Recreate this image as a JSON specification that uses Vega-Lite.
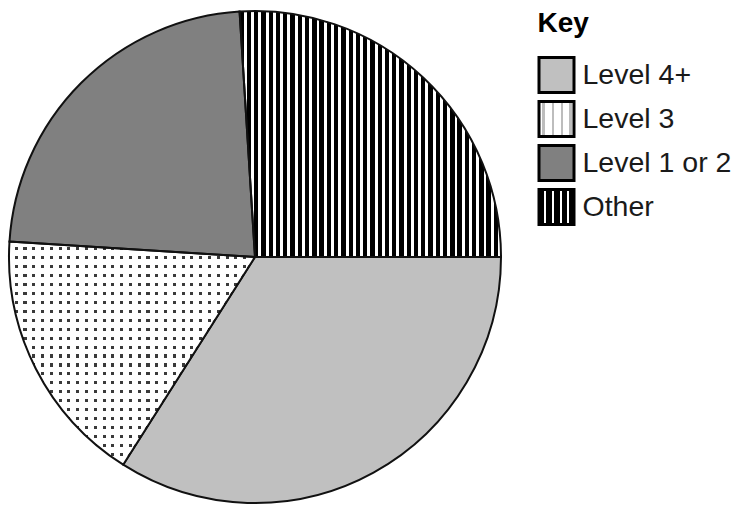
{
  "$schema": "https://vega.github.io/schema/vega-lite/v6.json",
  "width": 510,
  "height": 514,
  "padding": 0,
  "autosize": {"type": "pad"},
  "background": "white",
  "config": {"view": {"stroke": null}, "font": "Liberation Sans"},
  "data": {
    "values": [
      {"cat": "Level 4+", "pct": 34},
      {"cat": "Level 3", "pct": 17},
      {"cat": "Level 1 or 2", "pct": 23},
      {"cat": "Other", "pct": 26}
    ]
  },
  "encoding": {
    "theta": {"field": "pct", "type": "quantitative", "stack": true, "scale": {"range": [-0.0628, 6.2204]}},
    "order": {"field": "cat", "type": "ordinal", "sort": "descending"},
    "detail": {"field": "cat", "type": "nominal"}
  },
  "layer": [
    {
      "mark": {"type": "arc", "outerRadius": 246},
      "encoding": {
        "fill": {
          "field": "cat",
          "type": "nominal",
          "scale": {
            "domain": ["Level 4+", "Level 3", "Level 1 or 2", "Other"],
            "range": [
              "#c0c0c0",
              {"expr": "{gradient:'linear',x1:0,y1:0,x2:1,y2:0,stops:[{offset:0.1,color:'#fff'},{offset:0.1,color:'#bdbdbd'},{offset:0.18,color:'#bdbdbd'},{offset:0.18,color:'#fff'},{offset:0.36,color:'#fff'},{offset:0.36,color:'#bdbdbd'},{offset:0.44,color:'#bdbdbd'},{offset:0.44,color:'#fff'},{offset:0.62,color:'#fff'},{offset:0.62,color:'#bdbdbd'},{offset:0.7,color:'#bdbdbd'},{offset:0.7,color:'#fff'},{offset:0.86,color:'#fff'},{offset:0.86,color:'#bdbdbd'},{offset:0.94,color:'#bdbdbd'},{offset:0.94,color:'#fff'}]}"},
              "#808080",
              {"expr": "{gradient:'linear',x1:0,y1:0,x2:1,y2:0,stops:[{offset:0.14,color:'#000'},{offset:0.14,color:'#fff'},{offset:0.2,color:'#fff'},{offset:0.2,color:'#000'},{offset:0.37,color:'#000'},{offset:0.37,color:'#fff'},{offset:0.43,color:'#fff'},{offset:0.43,color:'#000'},{offset:0.59,color:'#000'},{offset:0.59,color:'#fff'},{offset:0.65,color:'#fff'},{offset:0.65,color:'#000'},{offset:0.8,color:'#000'},{offset:0.8,color:'#fff'},{offset:0.86,color:'#fff'},{offset:0.86,color:'#000'}]}"}
            ]
          },
          "legend": {
            "title": "Key",
            "orient": "none",
            "legendX": 537.5,
            "legendY": 10,
            "titleFontSize": 28,
            "titleFontWeight": "bold",
            "titleColor": "#000000",
            "titleFont": "Liberation Sans",
            "titlePadding": 18,
            "labelFontSize": 28.5,
            "labelFont": "Liberation Sans",
            "labelColor": "#1a1a1a",
            "labelOffset": 7,
            "labelLimit": 300,
            "symbolType": "square",
            "symbolSize": 1225,
            "symbolStrokeColor": "#000000",
            "symbolStrokeWidth": 3,
            "symbolOpacity": 1,
            "rowPadding": -4
          }
        }
      }
    },
    {
      "mark": {"type": "arc", "outerRadius": 246, "strokeWidth": 0},
      "encoding": {
        "fill": {
          "condition": [
            {
              "test": "datum.cat === 'Other'",
              "value": {
                "gradient": "linear", "x1": 0, "y1": 0, "x2": 1, "y2": 0,
                "stops": [
                  {"offset": 0.0167, "color": "#000000"}, {"offset": 0.0167, "color": "#ffffff"}, {"offset": 0.0278, "color": "#ffffff"}, {"offset": 0.0278, "color": "#000000"},
                  {"offset": 0.0444, "color": "#000000"}, {"offset": 0.0444, "color": "#ffffff"}, {"offset": 0.0556, "color": "#ffffff"}, {"offset": 0.0556, "color": "#000000"},
                  {"offset": 0.0722, "color": "#000000"}, {"offset": 0.0722, "color": "#ffffff"}, {"offset": 0.0833, "color": "#ffffff"}, {"offset": 0.0833, "color": "#000000"},
                  {"offset": 0.1, "color": "#000000"}, {"offset": 0.1, "color": "#ffffff"}, {"offset": 0.1111, "color": "#ffffff"}, {"offset": 0.1111, "color": "#000000"},
                  {"offset": 0.1278, "color": "#000000"}, {"offset": 0.1278, "color": "#ffffff"}, {"offset": 0.1389, "color": "#ffffff"}, {"offset": 0.1389, "color": "#000000"},
                  {"offset": 0.1556, "color": "#000000"}, {"offset": 0.1556, "color": "#ffffff"}, {"offset": 0.1667, "color": "#ffffff"}, {"offset": 0.1667, "color": "#000000"},
                  {"offset": 0.1833, "color": "#000000"}, {"offset": 0.1833, "color": "#ffffff"}, {"offset": 0.1944, "color": "#ffffff"}, {"offset": 0.1944, "color": "#000000"},
                  {"offset": 0.2111, "color": "#000000"}, {"offset": 0.2111, "color": "#ffffff"}, {"offset": 0.2222, "color": "#ffffff"}, {"offset": 0.2222, "color": "#000000"},
                  {"offset": 0.2389, "color": "#000000"}, {"offset": 0.2389, "color": "#ffffff"}, {"offset": 0.25, "color": "#ffffff"}, {"offset": 0.25, "color": "#000000"},
                  {"offset": 0.2667, "color": "#000000"}, {"offset": 0.2667, "color": "#ffffff"}, {"offset": 0.2778, "color": "#ffffff"}, {"offset": 0.2778, "color": "#000000"},
                  {"offset": 0.2944, "color": "#000000"}, {"offset": 0.2944, "color": "#ffffff"}, {"offset": 0.3056, "color": "#ffffff"}, {"offset": 0.3056, "color": "#000000"},
                  {"offset": 0.3222, "color": "#000000"}, {"offset": 0.3222, "color": "#ffffff"}, {"offset": 0.3333, "color": "#ffffff"}, {"offset": 0.3333, "color": "#000000"},
                  {"offset": 0.35, "color": "#000000"}, {"offset": 0.35, "color": "#ffffff"}, {"offset": 0.3611, "color": "#ffffff"}, {"offset": 0.3611, "color": "#000000"},
                  {"offset": 0.3778, "color": "#000000"}, {"offset": 0.3778, "color": "#ffffff"}, {"offset": 0.3889, "color": "#ffffff"}, {"offset": 0.3889, "color": "#000000"},
                  {"offset": 0.4056, "color": "#000000"}, {"offset": 0.4056, "color": "#ffffff"}, {"offset": 0.4167, "color": "#ffffff"}, {"offset": 0.4167, "color": "#000000"},
                  {"offset": 0.4333, "color": "#000000"}, {"offset": 0.4333, "color": "#ffffff"}, {"offset": 0.4444, "color": "#ffffff"}, {"offset": 0.4444, "color": "#000000"},
                  {"offset": 0.4611, "color": "#000000"}, {"offset": 0.4611, "color": "#ffffff"}, {"offset": 0.4722, "color": "#ffffff"}, {"offset": 0.4722, "color": "#000000"},
                  {"offset": 0.4889, "color": "#000000"}, {"offset": 0.4889, "color": "#ffffff"}, {"offset": 0.5, "color": "#ffffff"}, {"offset": 0.5, "color": "#000000"},
                  {"offset": 0.5167, "color": "#000000"}, {"offset": 0.5167, "color": "#ffffff"}, {"offset": 0.5278, "color": "#ffffff"}, {"offset": 0.5278, "color": "#000000"},
                  {"offset": 0.5444, "color": "#000000"}, {"offset": 0.5444, "color": "#ffffff"}, {"offset": 0.5556, "color": "#ffffff"}, {"offset": 0.5556, "color": "#000000"},
                  {"offset": 0.5722, "color": "#000000"}, {"offset": 0.5722, "color": "#ffffff"}, {"offset": 0.5833, "color": "#ffffff"}, {"offset": 0.5833, "color": "#000000"},
                  {"offset": 0.6, "color": "#000000"}, {"offset": 0.6, "color": "#ffffff"}, {"offset": 0.6111, "color": "#ffffff"}, {"offset": 0.6111, "color": "#000000"},
                  {"offset": 0.6278, "color": "#000000"}, {"offset": 0.6278, "color": "#ffffff"}, {"offset": 0.6389, "color": "#ffffff"}, {"offset": 0.6389, "color": "#000000"},
                  {"offset": 0.6556, "color": "#000000"}, {"offset": 0.6556, "color": "#ffffff"}, {"offset": 0.6667, "color": "#ffffff"}, {"offset": 0.6667, "color": "#000000"},
                  {"offset": 0.6833, "color": "#000000"}, {"offset": 0.6833, "color": "#ffffff"}, {"offset": 0.6944, "color": "#ffffff"}, {"offset": 0.6944, "color": "#000000"},
                  {"offset": 0.7111, "color": "#000000"}, {"offset": 0.7111, "color": "#ffffff"}, {"offset": 0.7222, "color": "#ffffff"}, {"offset": 0.7222, "color": "#000000"},
                  {"offset": 0.7389, "color": "#000000"}, {"offset": 0.7389, "color": "#ffffff"}, {"offset": 0.75, "color": "#ffffff"}, {"offset": 0.75, "color": "#000000"},
                  {"offset": 0.7667, "color": "#000000"}, {"offset": 0.7667, "color": "#ffffff"}, {"offset": 0.7778, "color": "#ffffff"}, {"offset": 0.7778, "color": "#000000"},
                  {"offset": 0.7944, "color": "#000000"}, {"offset": 0.7944, "color": "#ffffff"}, {"offset": 0.8056, "color": "#ffffff"}, {"offset": 0.8056, "color": "#000000"},
                  {"offset": 0.8222, "color": "#000000"}, {"offset": 0.8222, "color": "#ffffff"}, {"offset": 0.8333, "color": "#ffffff"}, {"offset": 0.8333, "color": "#000000"},
                  {"offset": 0.85, "color": "#000000"}, {"offset": 0.85, "color": "#ffffff"}, {"offset": 0.8611, "color": "#ffffff"}, {"offset": 0.8611, "color": "#000000"},
                  {"offset": 0.8778, "color": "#000000"}, {"offset": 0.8778, "color": "#ffffff"}, {"offset": 0.8889, "color": "#ffffff"}, {"offset": 0.8889, "color": "#000000"},
                  {"offset": 0.9056, "color": "#000000"}, {"offset": 0.9056, "color": "#ffffff"}, {"offset": 0.9167, "color": "#ffffff"}, {"offset": 0.9167, "color": "#000000"},
                  {"offset": 0.9333, "color": "#000000"}, {"offset": 0.9333, "color": "#ffffff"}, {"offset": 0.9444, "color": "#ffffff"}, {"offset": 0.9444, "color": "#000000"},
                  {"offset": 0.9611, "color": "#000000"}, {"offset": 0.9611, "color": "#ffffff"}, {"offset": 0.9722, "color": "#ffffff"}, {"offset": 0.9722, "color": "#000000"},
                  {"offset": 0.9889, "color": "#000000"}, {"offset": 0.9889, "color": "#ffffff"}, {"offset": 1, "color": "#ffffff"}
                ]
              }
            },
            {
              "test": "datum.cat === 'Level 3'",
              "value": {
                "gradient": "linear", "x1": 0, "y1": 0, "x2": 1, "y2": 0,
                "stops": [
                  {"offset": 0.0232, "color": "#ffffff"}, {"offset": 0.0232, "color": "#3a3a3a"}, {"offset": 0.0357, "color": "#3a3a3a"}, {"offset": 0.0357, "color": "#ffffff"},
                  {"offset": 0.0589, "color": "#ffffff"}, {"offset": 0.0589, "color": "#3a3a3a"}, {"offset": 0.0714, "color": "#3a3a3a"}, {"offset": 0.0714, "color": "#ffffff"},
                  {"offset": 0.0946, "color": "#ffffff"}, {"offset": 0.0946, "color": "#3a3a3a"}, {"offset": 0.1071, "color": "#3a3a3a"}, {"offset": 0.1071, "color": "#ffffff"},
                  {"offset": 0.1304, "color": "#ffffff"}, {"offset": 0.1304, "color": "#3a3a3a"}, {"offset": 0.1429, "color": "#3a3a3a"}, {"offset": 0.1429, "color": "#ffffff"},
                  {"offset": 0.1661, "color": "#ffffff"}, {"offset": 0.1661, "color": "#3a3a3a"}, {"offset": 0.1786, "color": "#3a3a3a"}, {"offset": 0.1786, "color": "#ffffff"},
                  {"offset": 0.2018, "color": "#ffffff"}, {"offset": 0.2018, "color": "#3a3a3a"}, {"offset": 0.2143, "color": "#3a3a3a"}, {"offset": 0.2143, "color": "#ffffff"},
                  {"offset": 0.2375, "color": "#ffffff"}, {"offset": 0.2375, "color": "#3a3a3a"}, {"offset": 0.25, "color": "#3a3a3a"}, {"offset": 0.25, "color": "#ffffff"},
                  {"offset": 0.2732, "color": "#ffffff"}, {"offset": 0.2732, "color": "#3a3a3a"}, {"offset": 0.2857, "color": "#3a3a3a"}, {"offset": 0.2857, "color": "#ffffff"},
                  {"offset": 0.3089, "color": "#ffffff"}, {"offset": 0.3089, "color": "#3a3a3a"}, {"offset": 0.3214, "color": "#3a3a3a"}, {"offset": 0.3214, "color": "#ffffff"},
                  {"offset": 0.3446, "color": "#ffffff"}, {"offset": 0.3446, "color": "#3a3a3a"}, {"offset": 0.3571, "color": "#3a3a3a"}, {"offset": 0.3571, "color": "#ffffff"},
                  {"offset": 0.3804, "color": "#ffffff"}, {"offset": 0.3804, "color": "#3a3a3a"}, {"offset": 0.3929, "color": "#3a3a3a"}, {"offset": 0.3929, "color": "#ffffff"},
                  {"offset": 0.4161, "color": "#ffffff"}, {"offset": 0.4161, "color": "#3a3a3a"}, {"offset": 0.4286, "color": "#3a3a3a"}, {"offset": 0.4286, "color": "#ffffff"},
                  {"offset": 0.4518, "color": "#ffffff"}, {"offset": 0.4518, "color": "#3a3a3a"}, {"offset": 0.4643, "color": "#3a3a3a"}, {"offset": 0.4643, "color": "#ffffff"},
                  {"offset": 0.4875, "color": "#ffffff"}, {"offset": 0.4875, "color": "#3a3a3a"}, {"offset": 0.5, "color": "#3a3a3a"}, {"offset": 0.5, "color": "#ffffff"},
                  {"offset": 0.5232, "color": "#ffffff"}, {"offset": 0.5232, "color": "#3a3a3a"}, {"offset": 0.5357, "color": "#3a3a3a"}, {"offset": 0.5357, "color": "#ffffff"},
                  {"offset": 0.5589, "color": "#ffffff"}, {"offset": 0.5589, "color": "#3a3a3a"}, {"offset": 0.5714, "color": "#3a3a3a"}, {"offset": 0.5714, "color": "#ffffff"},
                  {"offset": 0.5946, "color": "#ffffff"}, {"offset": 0.5946, "color": "#3a3a3a"}, {"offset": 0.6071, "color": "#3a3a3a"}, {"offset": 0.6071, "color": "#ffffff"},
                  {"offset": 0.6304, "color": "#ffffff"}, {"offset": 0.6304, "color": "#3a3a3a"}, {"offset": 0.6429, "color": "#3a3a3a"}, {"offset": 0.6429, "color": "#ffffff"},
                  {"offset": 0.6661, "color": "#ffffff"}, {"offset": 0.6661, "color": "#3a3a3a"}, {"offset": 0.6786, "color": "#3a3a3a"}, {"offset": 0.6786, "color": "#ffffff"},
                  {"offset": 0.7018, "color": "#ffffff"}, {"offset": 0.7018, "color": "#3a3a3a"}, {"offset": 0.7143, "color": "#3a3a3a"}, {"offset": 0.7143, "color": "#ffffff"},
                  {"offset": 0.7375, "color": "#ffffff"}, {"offset": 0.7375, "color": "#3a3a3a"}, {"offset": 0.75, "color": "#3a3a3a"}, {"offset": 0.75, "color": "#ffffff"},
                  {"offset": 0.7732, "color": "#ffffff"}, {"offset": 0.7732, "color": "#3a3a3a"}, {"offset": 0.7857, "color": "#3a3a3a"}, {"offset": 0.7857, "color": "#ffffff"},
                  {"offset": 0.8089, "color": "#ffffff"}, {"offset": 0.8089, "color": "#3a3a3a"}, {"offset": 0.8214, "color": "#3a3a3a"}, {"offset": 0.8214, "color": "#ffffff"},
                  {"offset": 0.8446, "color": "#ffffff"}, {"offset": 0.8446, "color": "#3a3a3a"}, {"offset": 0.8571, "color": "#3a3a3a"}, {"offset": 0.8571, "color": "#ffffff"},
                  {"offset": 0.8804, "color": "#ffffff"}, {"offset": 0.8804, "color": "#3a3a3a"}, {"offset": 0.8929, "color": "#3a3a3a"}, {"offset": 0.8929, "color": "#ffffff"},
                  {"offset": 0.9161, "color": "#ffffff"}, {"offset": 0.9161, "color": "#3a3a3a"}, {"offset": 0.9286, "color": "#3a3a3a"}, {"offset": 0.9286, "color": "#ffffff"},
                  {"offset": 0.9518, "color": "#ffffff"}, {"offset": 0.9518, "color": "#3a3a3a"}, {"offset": 0.9643, "color": "#3a3a3a"}, {"offset": 0.9643, "color": "#ffffff"}
                ]
              }
            }
          ],
          "value": "transparent"
        }
      }
    },
    {
      "mark": {"type": "arc", "outerRadius": 246, "stroke": "#111111", "strokeWidth": 2},
      "encoding": {
        "fill": {
          "condition": {
            "test": "datum.cat === 'Level 3'",
            "value": {
              "gradient": "linear", "x1": 0, "y1": 0, "x2": 0, "y2": 1,
              "stops": [
                {"offset": 0.026, "color": "#ffffff"}, {"offset": 0.026, "color": "transparent"}, {"offset": 0.04, "color": "transparent"}, {"offset": 0.04, "color": "#ffffff"},
                {"offset": 0.066, "color": "#ffffff"}, {"offset": 0.066, "color": "transparent"}, {"offset": 0.08, "color": "transparent"}, {"offset": 0.08, "color": "#ffffff"},
                {"offset": 0.106, "color": "#ffffff"}, {"offset": 0.106, "color": "transparent"}, {"offset": 0.12, "color": "transparent"}, {"offset": 0.12, "color": "#ffffff"},
                {"offset": 0.146, "color": "#ffffff"}, {"offset": 0.146, "color": "transparent"}, {"offset": 0.16, "color": "transparent"}, {"offset": 0.16, "color": "#ffffff"},
                {"offset": 0.186, "color": "#ffffff"}, {"offset": 0.186, "color": "transparent"}, {"offset": 0.2, "color": "transparent"}, {"offset": 0.2, "color": "#ffffff"},
                {"offset": 0.226, "color": "#ffffff"}, {"offset": 0.226, "color": "transparent"}, {"offset": 0.24, "color": "transparent"}, {"offset": 0.24, "color": "#ffffff"},
                {"offset": 0.266, "color": "#ffffff"}, {"offset": 0.266, "color": "transparent"}, {"offset": 0.28, "color": "transparent"}, {"offset": 0.28, "color": "#ffffff"},
                {"offset": 0.306, "color": "#ffffff"}, {"offset": 0.306, "color": "transparent"}, {"offset": 0.32, "color": "transparent"}, {"offset": 0.32, "color": "#ffffff"},
                {"offset": 0.346, "color": "#ffffff"}, {"offset": 0.346, "color": "transparent"}, {"offset": 0.36, "color": "transparent"}, {"offset": 0.36, "color": "#ffffff"},
                {"offset": 0.386, "color": "#ffffff"}, {"offset": 0.386, "color": "transparent"}, {"offset": 0.4, "color": "transparent"}, {"offset": 0.4, "color": "#ffffff"},
                {"offset": 0.426, "color": "#ffffff"}, {"offset": 0.426, "color": "transparent"}, {"offset": 0.44, "color": "transparent"}, {"offset": 0.44, "color": "#ffffff"},
                {"offset": 0.466, "color": "#ffffff"}, {"offset": 0.466, "color": "transparent"}, {"offset": 0.48, "color": "transparent"}, {"offset": 0.48, "color": "#ffffff"},
                {"offset": 0.506, "color": "#ffffff"}, {"offset": 0.506, "color": "transparent"}, {"offset": 0.52, "color": "transparent"}, {"offset": 0.52, "color": "#ffffff"},
                {"offset": 0.546, "color": "#ffffff"}, {"offset": 0.546, "color": "transparent"}, {"offset": 0.56, "color": "transparent"}, {"offset": 0.56, "color": "#ffffff"},
                {"offset": 0.586, "color": "#ffffff"}, {"offset": 0.586, "color": "transparent"}, {"offset": 0.6, "color": "transparent"}, {"offset": 0.6, "color": "#ffffff"},
                {"offset": 0.626, "color": "#ffffff"}, {"offset": 0.626, "color": "transparent"}, {"offset": 0.64, "color": "transparent"}, {"offset": 0.64, "color": "#ffffff"},
                {"offset": 0.666, "color": "#ffffff"}, {"offset": 0.666, "color": "transparent"}, {"offset": 0.68, "color": "transparent"}, {"offset": 0.68, "color": "#ffffff"},
                {"offset": 0.706, "color": "#ffffff"}, {"offset": 0.706, "color": "transparent"}, {"offset": 0.72, "color": "transparent"}, {"offset": 0.72, "color": "#ffffff"},
                {"offset": 0.746, "color": "#ffffff"}, {"offset": 0.746, "color": "transparent"}, {"offset": 0.76, "color": "transparent"}, {"offset": 0.76, "color": "#ffffff"},
                {"offset": 0.786, "color": "#ffffff"}, {"offset": 0.786, "color": "transparent"}, {"offset": 0.8, "color": "transparent"}, {"offset": 0.8, "color": "#ffffff"},
                {"offset": 0.826, "color": "#ffffff"}, {"offset": 0.826, "color": "transparent"}, {"offset": 0.84, "color": "transparent"}, {"offset": 0.84, "color": "#ffffff"},
                {"offset": 0.866, "color": "#ffffff"}, {"offset": 0.866, "color": "transparent"}, {"offset": 0.88, "color": "transparent"}, {"offset": 0.88, "color": "#ffffff"},
                {"offset": 0.906, "color": "#ffffff"}, {"offset": 0.906, "color": "transparent"}, {"offset": 0.92, "color": "transparent"}, {"offset": 0.92, "color": "#ffffff"},
                {"offset": 0.946, "color": "#ffffff"}, {"offset": 0.946, "color": "transparent"}, {"offset": 0.96, "color": "transparent"}, {"offset": 0.96, "color": "#ffffff"}
              ]
            }
          },
          "value": "transparent"
        }
      }
    }
  ]
}
